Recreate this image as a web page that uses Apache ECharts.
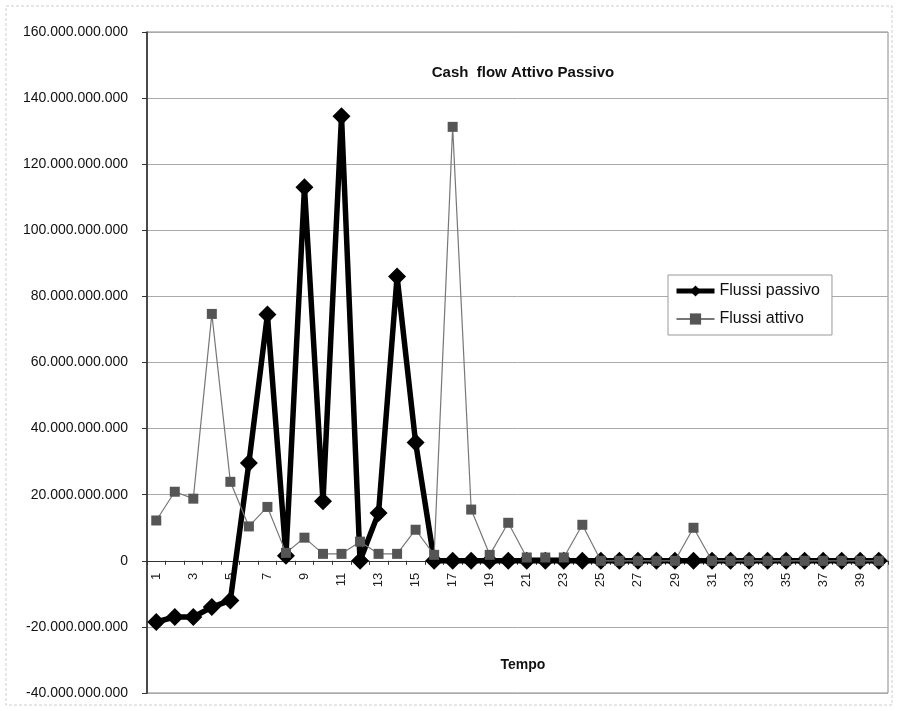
<!DOCTYPE html>
<html>
<head>
<meta charset="utf-8">
<script src="https://cdn.jsdelivr.net/npm/echarts@6/dist/echarts.min.js"></script>
<style>
  html, body { margin: 0; padding: 0; background: #fff; }
  #chart { width: 898px; height: 711px; }
</style>
</head>
<body>
<div id="chart"></div>
<script>
const periods = Array.from({ length: 40 }, (_, i) => String(i + 1));

const flussiPassivo = [
  -18.5e9, -17e9, -17e9, -14e9, -12e9, 29.6e9, 74.5e9, 1.5e9, 113e9, 18e9,
  134.5e9, 0, 14.5e9, 86e9, 35.8e9, 0, 0, 0, 0, 0,
  0, 0, 0, 0, 0, 0, 0, 0, 0, 0,
  0, 0, 0, 0, 0, 0, 0, 0, 0, 0
];

const flussiAttivo = [
  12.2e9, 20.9e9, 18.8e9, 74.7e9, 23.9e9, 10.4e9, 16.3e9, 2.4e9, 7e9, 2.1e9,
  2.1e9, 5.8e9, 2.1e9, 2.1e9, 9.4e9, 1.8e9, 131.3e9, 15.5e9, 1.8e9, 11.5e9,
  1e9, 1e9, 1e9, 10.9e9, 0, 0, 0, 0, 0, 10e9,
  0, 0, 0, 0, 0, 0, 0, 0, 0, 0
];

const yMin = -40e9;
const yMax = 160e9;
const yStep = 20e9;

// thousands with dots, italian style
function fmt(v) {
  const neg = v < 0;
  const s = String(Math.round(Math.abs(v))).replace(/\B(?=(\d{3})+(?!\d))/g, '.');
  return (neg ? '-' : '') + s;
}

const gridTop = 32;
const gridBottom = 18;
const plotH = 711 - gridTop - gridBottom;
// move the category axis up to the zero line
const zeroOffset = -plotH * (0 - yMin) / (yMax - yMin);

const chart = echarts.init(document.getElementById('chart'));

const option = {
  backgroundColor: '#fff',
  animation: false,
  textStyle: { fontFamily: 'Liberation Sans, Arial, sans-serif' },
  title: [
    {
      text: 'Cash  flow Attivo Passivo',
      left: 518,
      top: 60,
      textAlign: 'center',
      textStyle: { fontSize: 15, fontWeight: 'bold', color: '#111' }
    },
    {
      text: 'Tempo',
      left: 518,
      top: 653,
      textAlign: 'center',
      textStyle: { fontSize: 14, fontWeight: 'bold', color: '#111' }
    }
  ],
  graphic: [
    {
      type: 'rect',
      shape: { x: 6, y: 6, width: 886, height: 699 },
      style: { fill: 'none', stroke: '#ccc', lineWidth: 1, lineDash: [3, 2] },
      silent: true
    }
  ],
  legend: {
    orient: 'vertical',
    left: 668,
    top: 275,
    padding: [8, 12, 8, 6],
    itemGap: 12,
    itemWidth: 38,
    itemHeight: 14,
    borderColor: '#999',
    borderWidth: 1,
    backgroundColor: '#fff',
    textStyle: { fontSize: 16, color: '#111' },
    data: [
      { name: 'Flussi passivo', lineStyle: { width: 5 } },
      { name: 'Flussi attivo' }
    ]
  },
  grid: {
    left: 147,
    right: 10,
    top: gridTop,
    bottom: gridBottom,
    show: true,
    borderColor: '#888',
    borderWidth: 1
  },
  xAxis: {
    type: 'category',
    data: periods,
    boundaryGap: true,
    offset: zeroOffset,
    axisLine: { onZero: false, lineStyle: { color: '#333', width: 1 } },
    axisTick: { show: true, length: 4, interval: 0, lineStyle: { color: '#333' } },
    axisLabel: {
      interval: 1,
      rotate: 90,
      fontSize: 13,
      color: '#222',
      margin: 12
    },
    splitLine: { show: false }
  },
  yAxis: {
    type: 'value',
    min: yMin,
    max: yMax,
    interval: yStep,
    axisLine: { show: true, onZero: false, lineStyle: { color: '#222', width: 1.5 } },
    axisTick: { show: true, length: 5, lineStyle: { color: '#333' } },
    axisLabel: {
      fontSize: 14,
      color: '#111',
      margin: 19,
      formatter: fmt
    },
    splitLine: { show: true, lineStyle: { color: '#aaa', width: 1 } }
  },
  series: [
    {
      name: 'Flussi passivo',
      type: 'line',
      data: flussiPassivo,
      symbol: 'diamond',
      symbolSize: 18,
      showAllSymbol: true,
      z: 3,
      lineStyle: { color: '#000', width: 5.5 },
      itemStyle: { color: '#000' }
    },
    {
      name: 'Flussi attivo',
      type: 'line',
      data: flussiAttivo,
      symbol: 'rect',
      symbolSize: 10,
      showAllSymbol: true,
      z: 4,
      lineStyle: { color: '#777', width: 1.2 },
      itemStyle: { color: '#555' }
    }
  ]
};

chart.setOption(option);
</script>
</body>
</html>
